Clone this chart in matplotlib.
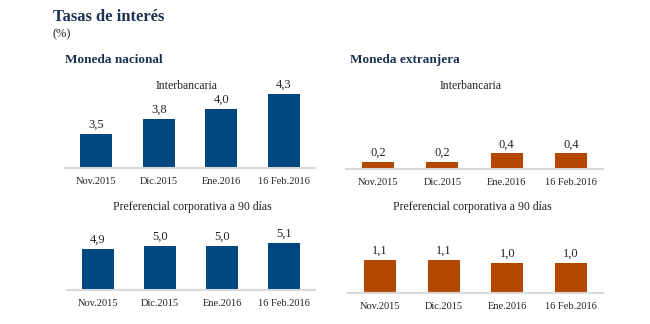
import matplotlib
matplotlib.use("Agg")
import matplotlib.pyplot as plt

categories = ["Nov.2015", "Dic.2015", "Ene.2016", "16 Feb.2016"]
nac_inter = [3.5, 3.8, 4.0, 4.3]
nac_pref = [4.9, 5.0, 5.0, 5.1]
ext_inter = [0.2, 0.2, 0.4, 0.4]
ext_pref = [1.1, 1.1, 1.0, 1.0]

W, H = 650, 324
NAVY = "#004680"
ORANGE = "#b34700"
TITLE_C = "#1a3350"
plt.rcParams['font.family'] = ['Liberation Serif', 'DejaVu Serif']

fig = plt.figure(figsize=(W / 100, H / 100), dpi=100)
fig.patch.set_facecolor("white")


def px_axes(x0, x1, ybase, ytop):
    return fig.add_axes([x0 / W, 1 - ybase / H, (x1 - x0) / W, (ybase - ytop) / H])


def panel(ax, vals, color, ylim, width):
    x = range(len(vals))
    ax.bar(x, vals, width=width, color=color, zorder=2)
    ax.set_xlim(-0.5, len(vals) - 0.5)
    ax.set_ylim(*ylim)
    for xi, v in zip(x, vals):
        ax.annotate(f"{v:.1f}".replace(".", ","), (xi, v), xytext=(0, 2),
                    textcoords="offset points", ha="center", va="bottom",
                    fontsize=9, color="#222222")
    ax.set_xticks(list(x))
    ax.set_xticklabels(categories, fontsize=7.5, color="#222222")
    ax.set_yticks([])
    for s in ["top", "right", "left"]:
        ax.spines[s].set_visible(False)
    ax.spines["bottom"].set_color("#d9d9d9")
    ax.spines["bottom"].set_linewidth(1.5)
    ax.tick_params(axis="x", length=0, pad=6.5)
    ax.patch.set_alpha(0)


ax1 = px_axes(65, 315, 168, 80)
panel(ax1, nac_inter, NAVY, (2.82, 4.58), 0.51)
ax2 = px_axes(67, 315, 290, 230)
panel(ax2, nac_pref, NAVY, (3.53, 5.53), 0.51)
ax3 = px_axes(346, 603, 169, 80)
panel(ax3, ext_inter, ORANGE, (0.03, 2.15), 0.5)
ax4 = px_axes(348, 603, 293, 230)
panel(ax4, ext_pref, ORANGE, (0.0, 2.1), 0.5)

fig.text(53 / W, 1 - 17 / H, "Tasas de interés", fontsize=12, fontweight="bold",
         color=TITLE_C, va="center", ha="left")
fig.text(53 / W, 1 - 34 / H, "(%)", fontsize=9, color="#222222", va="center", ha="left")
fig.text(65 / W, 1 - 60 / H, "Moneda nacional", fontsize=9.5, fontweight="bold",
         color=TITLE_C, va="center", ha="left")
fig.text(350 / W, 1 - 60 / H, "Moneda extranjera", fontsize=9.5, fontweight="bold",
         color=TITLE_C, va="center", ha="left")

for xc, yc, t in [(187, 86, "Interbancaria"), (471, 86, "Interbancaria"),
                  (192, 207, "Preferencial corporativa a 90 días"),
                  (472, 207, "Preferencial corporativa a 90 días")]:
    fig.text(xc / W, 1 - yc / H, t, fontsize=8.5, color="#222222", ha="center", va="center")

fig.savefig("out.png", dpi=100)
